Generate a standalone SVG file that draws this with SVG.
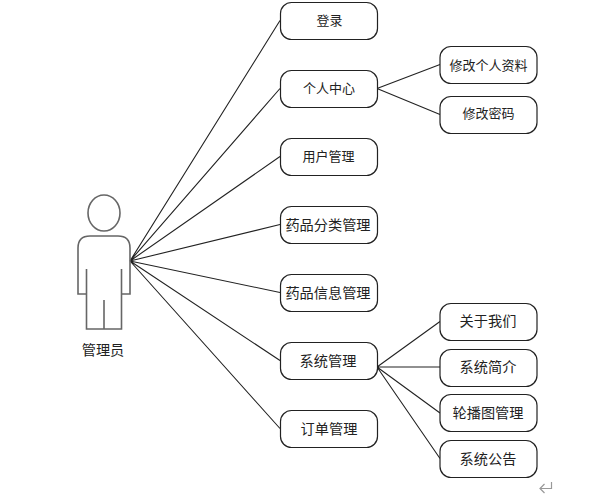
<svg xmlns="http://www.w3.org/2000/svg" width="612" height="494" viewBox="0 0 612 494">
<style>
.box{fill:#fff;stroke:#222;stroke-width:1.2}
.lbl{font-family:"Noto Sans CJK SC","Liberation Sans",sans-serif;font-size:14.2px;fill:#222;text-anchor:middle}
.sm{font-size:13px}
.conn{fill:none;stroke:#222;stroke-width:1.1}
.actor{fill:none;stroke:#666;stroke-width:1.6}
</style>
<rect width="612" height="494" fill="#fff"/>
<g id="connectors">
<path class="conn" d="M130 261L280 20.500M130 261L280 88.500M130 261L280 156.500M130 261L280 224.500M130 261L280 292.500M130 261L280 360.500M130 261L280 428.500"/>
<path class="conn" d="M377 88.500L440 64.500M377 88.500L440 114.500"/>
<path class="conn" d="M377 367L440 321.500M377 367H440M377 367L440 413M377 367L440 458.500"/>
</g>
<g id="actor">
<ellipse class="actor" cx="104" cy="213" rx="16" ry="18"/>
<path class="actor" d="M86.500 294H78V248Q78 236 90 236H118Q130 236 130 248V294H121.500M86.500 269V329H121.500V269M104 300V329"/>
<text class="lbl" x="103" y="355">管理员</text>
</g>
<g id="n1"><rect class="box" x="280.500" y="2.500" width="97" height="37" rx="11"/><text class="lbl sm" x="329.500" y="25">登录</text></g>
<g id="n2"><rect class="box" x="280.500" y="70.500" width="97" height="37" rx="11"/><text class="lbl sm" x="329" y="93">个人中心</text></g>
<g id="n3"><rect class="box" x="280.500" y="138.500" width="97" height="37" rx="11"/><text class="lbl sm" x="328.500" y="161">用户管理</text></g>
<g id="n4"><rect class="box" x="280.500" y="206.500" width="97" height="37" rx="11"/><text class="lbl" x="328" y="230">药品分类管理</text></g>
<g id="n5"><rect class="box" x="280.500" y="274.500" width="97" height="37" rx="11"/><text class="lbl" x="328" y="298">药品信息管理</text></g>
<g id="n6"><rect class="box" x="280.500" y="342.500" width="97" height="37" rx="11"/><text class="lbl" x="328" y="366">系统管理</text></g>
<g id="n7"><rect class="box" x="280.500" y="410.500" width="97" height="37" rx="11"/><text class="lbl" x="329" y="434">订单管理</text></g>
<g id="n8"><rect class="box" x="440" y="46.500" width="97" height="37" rx="11"/><text class="lbl sm" x="488.500" y="69.500">修改个人资料</text></g>
<g id="n9"><rect class="box" x="440" y="96.500" width="97" height="37" rx="11"/><text class="lbl sm" x="488.500" y="118">修改密码</text></g>
<g id="n10"><rect class="box" x="440" y="303.500" width="97" height="37" rx="11"/><text class="lbl" x="488" y="326">关于我们</text></g>
<g id="n11"><rect class="box" x="440" y="349.500" width="97" height="37" rx="11"/><text class="lbl" x="488" y="372">系统简介</text></g>
<g id="n12"><rect class="box" x="440" y="394.500" width="97" height="37" rx="11"/><text class="lbl" x="488" y="418">轮播图管理</text></g>
<g id="n13"><rect class="box" x="440" y="440.500" width="97" height="37" rx="11"/><text class="lbl" x="488" y="464">系统公告</text></g>
<path fill="none" stroke="#999" stroke-width="1.2" d="M551.500 482V488.500H540M544.500 484L540 488.500L544.500 493"/>
</svg>
